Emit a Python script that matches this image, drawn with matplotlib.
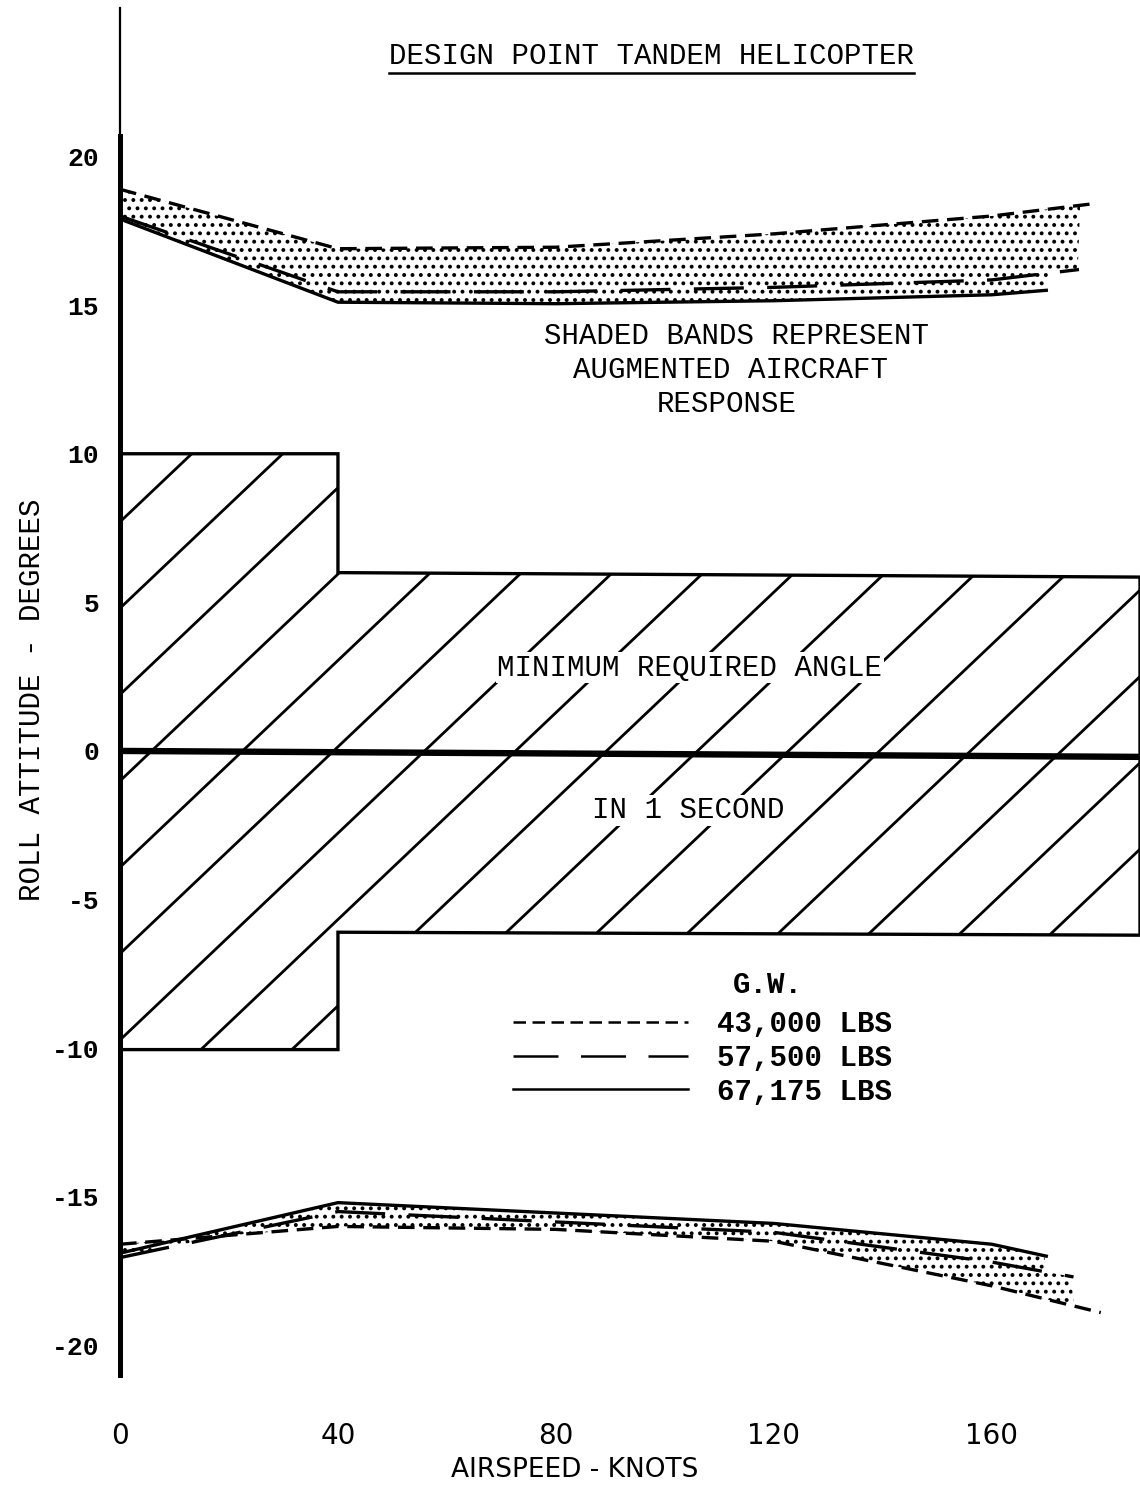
import numpy as np
import matplotlib.pyplot as plt
from matplotlib.patches import Polygon
from matplotlib.collections import LineCollection
from matplotlib.lines import Line2D

plt.rcParams['font.family'] = ['Liberation Mono', 'DejaVu Sans Mono']
plt.rcParams['hatch.linewidth'] = 1.6

# airspeed (knots) / roll attitude (deg)
# upper band
up_x_43000 = [0, 40, 80, 120, 160, 178]
up_y_43000 = [18.9, 16.9, 16.95, 17.4, 18.0, 18.4]
up_x_57500 = [0, 40, 80, 120, 160, 176]
up_y_57500 = [18.0, 15.45, 15.45, 15.6, 15.85, 16.2]
up_x_67175 = [0, 40, 80, 120, 160, 170]
up_y_67175 = [17.9, 15.1, 15.05, 15.15, 15.35, 15.5]

# lower band
lo_x_43000 = [0, 40, 80, 120, 160, 180]
lo_y_43000 = [-16.6, -16.0, -16.1, -16.5, -18.0, -18.9]
lo_x_57500 = [0, 40, 80, 120, 160, 175]
lo_y_57500 = [-17.05, -15.5, -15.85, -16.2, -17.2, -17.7]
lo_x_67175 = [0, 40, 80, 120, 160, 170]
lo_y_67175 = [-16.9, -15.2, -15.55, -15.9, -16.6, -17.0]

# minimum required angle in 1 second
req_x = [0, 40, 40, 187.2, 187.2, 40, 40, 0]
req_y = [10, 10, 6.0, 5.85, -6.2, -6.1, -10.05, -10.05]

gw_labels = ['43,000 LBS', '57,500 LBS', '67,175 LBS']
gw_styles = [(0, (5, 2.6)), (0, (15, 7)), '-']
gw_keys = [(0, (5, 2.6)), (0, (18, 9)), '-']

xticks = [0, 40, 80, 120, 160]
yticks = [-20, -15, -10, -5, 0, 5, 10, 15, 20]

XMAX = 187.2
narrow = ['Liberation Sans Narrow', 'DejaVu Sans']

fig = plt.figure(figsize=(11.4, 14.86), dpi=100)
ax = fig.add_axes([120 / 1140, 111 / 1486, 1020 / 1140, 1367 / 1486])
ax.set_xlim(0, XMAX)
ax.set_ylim(-21.0, 25.0)

for s in ['top', 'right', 'bottom']:
    ax.spines[s].set_visible(False)
ax.spines['left'].set_linewidth(3.6)
ax.spines['left'].set_bounds(-21.0, 20.7)
ax.plot([0, 0], [20.7, 25.0], color='black', lw=1.6, clip_on=False)

ax.set_xticks(xticks)
ax.set_xticklabels([str(v) for v in xticks], fontsize=20, family=narrow)
ax.set_yticks(yticks)
ax.set_yticklabels([str(v) for v in yticks], fontsize=19, fontweight='bold')
ax.tick_params(axis='y', length=0, pad=15)
ax.tick_params(axis='x', length=0, pad=34)

# hatched requirement region
req = Polygon(np.column_stack([req_x, req_y]), closed=True, facecolor='none',
              edgecolor='black', lw=2.4, joinstyle='miter')
ax.add_patch(req)
slope = 0.174
spacing = 16.7
offs = 5.8 + spacing * np.arange(-12, 30)
xx = np.array([-10.0, 200.0])
segs = [np.column_stack([xx, slope * (xx - o)]) for o in offs]
hatch = LineCollection(segs, colors='black', linewidths=2.0)
ax.add_collection(hatch)
hatch.set_clip_path(req)

# zero line
ax.plot([0, XMAX], [0, -0.2], color='black', lw=4.6, solid_capstyle='butt')


def band(xs_list, ys_list):
    grid = np.linspace(0, max(x[-1] for x in xs_list), 400)
    stack = np.array([np.where(grid <= x[-1], np.interp(grid, x, y), np.nan)
                      for x, y in zip(xs_list, ys_list)])
    ax.fill_between(grid, np.nanmin(stack, 0), np.nanmax(stack, 0),
                    facecolor='none', edgecolor='black', hatch='..', linewidth=0)


band([up_x_43000, up_x_57500, up_x_67175], [up_y_43000, up_y_57500, up_y_67175])
band([lo_x_43000, lo_x_57500, lo_x_67175], [lo_y_43000, lo_y_57500, lo_y_67175])

ups = [(up_x_43000, up_y_43000), (up_x_57500, up_y_57500), (up_x_67175, up_y_67175)]
los = [(lo_x_43000, lo_y_43000), (lo_x_57500, lo_y_57500), (lo_x_67175, lo_y_67175)]
for (ux, uy), (lx, ly), st in zip(ups, los, gw_styles):
    ax.plot(ux, uy, color='black', lw=2.4, ls=st)
    ax.plot(lx, ly, color='black', lw=2.4, ls=st)

# texts
title = ax.text(97.6, 23.37, 'DESIGN POINT TANDEM HELICOPTER', fontsize=21,
                ha='center', va='center')
ax.text(113.2, 13.97, 'SHADED BANDS REPRESENT', fontsize=21, ha='center', va='center')
ax.text(112.0, 12.83, 'AUGMENTED AIRCRAFT', fontsize=21, ha='center', va='center')
ax.text(111.4, 11.68, 'RESPONSE', fontsize=21, ha='center', va='center')
bb = dict(facecolor='white', edgecolor='none', pad=1)
ax.text(104.6, 2.8, 'MINIMUM REQUIRED ANGLE', fontsize=21, ha='center', va='center', bbox=bb)
ax.text(104.2, -1.99, 'IN 1 SECOND', fontsize=21, ha='center', va='center', bbox=bb)
ax.text(118.9, -7.88, 'G.W.', fontsize=21, ha='center', va='center', fontweight='bold')

handles = [Line2D([], [], color='black', lw=1.8, ls=st) for st in gw_keys]
leg = ax.legend(handles, gw_labels, loc='upper left',
                bbox_to_anchor=(513 / 1140, (1486 - 1010) / 1486),
                bbox_transform=fig.transFigure, frameon=False,
                prop={'size': 21, 'weight': 'bold'}, handlelength=6.0,
                handletextpad=1.0, labelspacing=0.2, borderpad=0,
                borderaxespad=0)

fig.text(575 / 1140, (1486 - 1470) / 1486, 'AIRSPEED - KNOTS', fontsize=19,
         family=narrow, ha='center', va='center')
fig.text(32 / 1140, (1486 - 700) / 1486, 'ROLL ATTITUDE - DEGREES', fontsize=21,
         rotation=90, ha='center', va='center')

# underline the title
fig.canvas.draw()
ext = title.get_window_extent()
fig.add_artist(Line2D([ext.x0 / 1140, ext.x1 / 1140],
                      [(ext.y0 - 3) / 1486, (ext.y0 - 3) / 1486],
                      color='black', lw=1.8))

fig.savefig('out.png', dpi=100)
